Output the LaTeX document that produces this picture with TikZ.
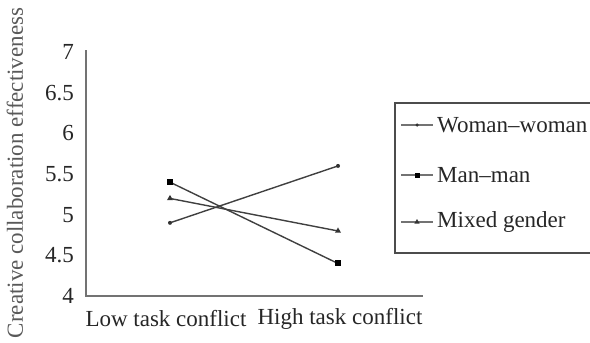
\documentclass[tikz,border=0pt]{standalone}
\usepackage{fontspec}
\setmainfont{Liberation Serif}
\usetikzlibrary{shapes.geometric}
\begin{document}
\begin{tikzpicture}[x=1pt,y=-1pt,
  axis/.style={draw=black!55,line width=2pt},
  series/.style={draw=black!75,line width=1.4pt},
  lbl/.style={font=\fontsize{23}{25}\selectfont,text=black!85,inner sep=0pt},
  tick/.style={lbl,anchor=east},
  sq/.style={fill=black,minimum size=6pt,inner sep=0pt,draw=none,rectangle},
  dot/.style={fill=black!80,circle,minimum size=4pt,inner sep=0pt},
  tri/.style={fill=black!80,regular polygon,regular polygon sides=3,minimum size=7pt,inner sep=0pt}
]
\useasboundingbox (0,0) rectangle (590,343);
% axes
\coordinate (o) at (86,296);
\coordinate (yt) at (86,50);
\coordinate (xr) at (423,296);
\draw[axis] (yt) -- (o) -- (xr);
% ticks labels
\foreach \v/\t in {4/4,4.5/4.5,5/5,5.5/5.5,6/6,6.5/6.5,7/7}{
  \node[tick] (t\v) at (74,{296-(\v-4)*81.3}) {\t};
}
\node[lbl,rotate=90,text=black!65] (ylab) at (15,173) {Creative collaboration effectiveness};
\node[lbl] (xl1) at (166,319) {Low task conflict};
\node[lbl] (xl2) at (340,319) {High task conflict};
% data
\def\Y#1{{296-(#1-4)*81.3}}
\coordinate (wl) at (170,\Y{4.9});
\coordinate (wh) at (338,\Y{5.6});
\coordinate (ml) at (170,\Y{5.4});
\coordinate (mh) at (338,\Y{4.4});
\coordinate (xlo) at (170,\Y{5.2});
\coordinate (xhi) at (338,\Y{4.8});
\draw[series] (wl) -- (wh);
\draw[series] (ml) -- (mh);
\draw[series] (xlo) -- (xhi);
\node[dot] at (wl) {};
\node[dot] at (wh) {};
\node[sq] at (ml) {};
\node[sq] at (mh) {};
\node[tri] at (xlo) {};
\node[tri] at (xhi) {};
% legend
\draw[draw=black!70,line width=1.3pt] (395,103) rectangle (595,253);
\coordinate (la1) at (401,125); \coordinate (lb1) at (433,125);
\coordinate (la2) at (401,175); \coordinate (lb2) at (433,175);
\coordinate (la3) at (401,222); \coordinate (lb3) at (433,222);
\draw[draw=black!55,line width=1.4pt] (la1) -- (lb1);
\draw[draw=black!55,line width=1.4pt] (la2) -- (lb2);
\draw[draw=black!55,line width=1.4pt] (la3) -- (lb3);
\node[dot,minimum size=3.5pt] at (417,125) {};
\node[sq,minimum size=5pt] at (417,175) {};
\node[tri,minimum size=6pt] at (417,222) {};
\node[lbl,anchor=west] (lg1) at (437,125) {Woman–woman};
\node[lbl,anchor=west] (lg2) at (437,175) {Man–man};
\node[lbl,anchor=west] (lg3) at (437,222) {Mixed gender};
\end{tikzpicture}
\end{document}
